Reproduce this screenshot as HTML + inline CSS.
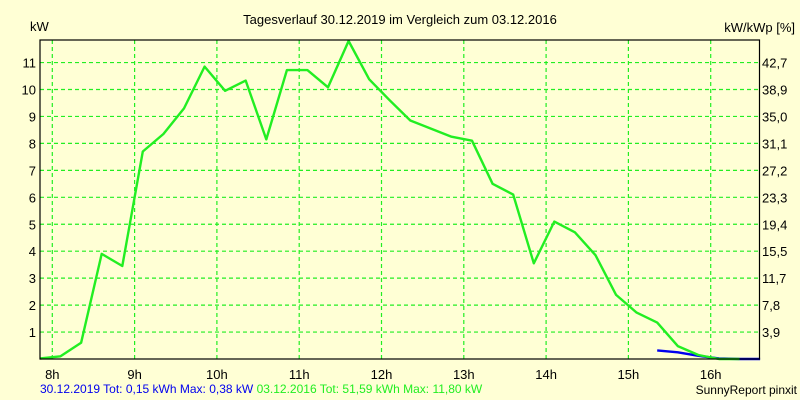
<!DOCTYPE html>
<html><head><meta charset="utf-8"><style>
html,body{margin:0;padding:0;background:#ffffd5;}
svg{display:block;font-family:"Liberation Sans",sans-serif;}
</style></head><body>
<svg id="chart" width="800" height="400" viewBox="0 0 800 400">
<rect x="0" y="0" width="800" height="400" fill="#ffffd5"/>
<text x="400" y="24" text-anchor="middle" font-size="13" fill="#000">Tagesverlauf 30.12.2019 im Vergleich zum 03.12.2016</text>
<text x="30" y="31" font-size="13" fill="#000">kW</text>
<text x="795" y="32" text-anchor="end" font-size="13" fill="#000">kW/kWp [%]</text>
<g id="grid"></g>
<g id="series"></g>
<rect x="40" y="40" width="719.5" height="319" fill="none" stroke="#000" stroke-width="1.2"/>
<g id="labels"></g>
<text x="40" y="393" font-size="12" fill="#0000ee">30.12.2019 Tot: 0,15 kWh Max: 0,38 kW <tspan fill="#22ee22">03.12.2016 Tot: 51,59 kWh Max: 11,80 kW</tspan></text>
<text x="797" y="394" text-anchor="end" font-size="12" fill="#000">SunnyReport pinxit</text>
</svg>
<script>
const hourTicks = [8,9,10,11,12,13,14,15,16];
const hourLabels = ["8h","9h","10h","11h","12h","13h","14h","15h","16h"];
const kwTicks = [1,2,3,4,5,6,7,8,9,10,11];
const pctLabels = ["3,9","7,8","11,7","15,5","19,4","23,3","27,2","31,1","35,0","38,9","42,7"];
const greenTimes = [7.85,8.1,8.35,8.6,8.85,9.1,9.35,9.6,9.85,10.1,10.35,10.6,10.85,11.1,11.35,11.6,11.85,12.1,12.35,12.6,12.85,13.1,13.35,13.6,13.85,14.1,14.35,14.6,14.85,15.1,15.35,15.6,15.85,16.1,16.35];
const greenValues = [0.02,0.1,0.6,3.9,3.45,7.7,8.35,9.3,10.85,9.95,10.33,8.15,10.72,10.72,10.08,11.8,10.38,9.6,8.85,8.55,8.25,8.1,6.5,6.1,3.55,5.1,4.7,3.85,2.38,1.72,1.35,0.48,0.15,0.0,0.0];
const blueTimes = [15.35,15.6,15.85,16.1,16.35,16.6];
const blueValues = [0.32,0.25,0.12,0.02,0.0,0.0];

const NS="http://www.w3.org/2000/svg";
const X0=40,X1=759.5,Y0=359,Y1=40;
function xs(h){return 52.3+(h-8)*82.3;}
function ys(v){return Y0-v*26.95;}
function mk(tag,attrs,parent){const e=document.createElementNS(NS,tag);for(const k in attrs)e.setAttribute(k,attrs[k]);parent.appendChild(e);return e;}
const grid=document.getElementById('grid'),labels=document.getElementById('labels'),series=document.getElementById('series');
kwTicks.forEach((v,i)=>{
  const y=ys(v);
  const l=mk('line',{x1:X0,x2:X1,y1:y,y2:y,stroke:'#22ee22','stroke-width':1.2,'stroke-dasharray':'4,3'},grid);
  
  
  const t=mk('text',{x:36,y:y+5,'text-anchor':'end','font-size':13,fill:'#000'},labels);
  t.textContent=String(v);
  
  
  const r=mk('text',{x:762,y:y+5,'font-size':13,fill:'#000'},labels);
  r.textContent=pctLabels[i];
  
  
});
hourTicks.forEach((h,i)=>{
  const x=xs(h);
  const l=mk('line',{x1:x,x2:x,y1:Y1,y2:Y0,stroke:'#22ee22','stroke-width':1.2,'stroke-dasharray':'4,3'},grid);
  
  
  const t=mk('text',{x:x,y:379,'text-anchor':'middle','font-size':13,fill:'#000'},labels);
  t.textContent=hourLabels[i];
  
  
});
function line(times,vals,color,name){
  const pts=times.map((t,i)=>xs(t).toFixed(1)+','+ys(vals[i]).toFixed(1)).join(' ');
  const p=mk('polyline',{points:pts,fill:'none',stroke:color,'stroke-width':2.4,'stroke-linejoin':'round'},series);
  
  
}
line(blueTimes,blueValues,'#0000ee','line-2019');
line(greenTimes,greenValues,'#22ee22','line-2016');
</script>
</body></html>
